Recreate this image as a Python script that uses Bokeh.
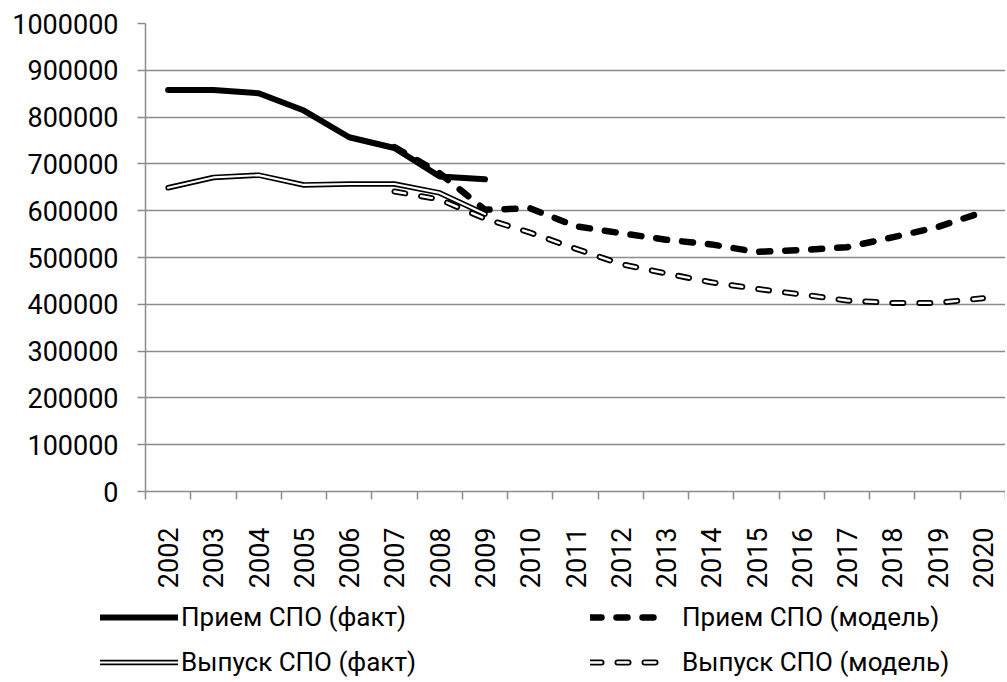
from bokeh.plotting import figure
from bokeh.models import Range1d, FixedTicker, NumeralTickFormatter, Legend, LegendItem
from bokeh.embed import file_html
from bokeh.resources import INLINE
import math

nan = float("nan")

# ---- data ----
years = [str(y) for y in range(2002, 2021)]
priem_fact = [858000, 858000, 851000, 814000, 757000, 734000, 673000, 667000] + [nan] * 11
priem_model = [nan] * 5 + [736000, 680000, 602000, 605000, 567000, 552000, 538000,
                           528000, 512000, 516000, 522000, 543000, 565000, 597000]
vypusk_fact = [649000, 671000, 676000, 655000, 657000, 657000, 638000, 593000] + [nan] * 11
vypusk_model = [nan] * 5 + [641000, 624000, 583000, 553000, 519000, 486000, 466000,
                            447000, 433000, 421000, 408000, 403000, 403000, 413000]
y_ticks = [0, 100000, 200000, 300000, 400000, 500000, 600000, 700000, 800000, 900000, 1000000]
labels = ["Прием СПО (факт)", "Прием СПО (модель)", "Выпуск СПО (факт)", "Выпуск СПО (модель)"]

x = list(range(len(years)))

FONT = "Roboto"
FS = "27px"
GRID = "#8c8c8c"

# line styles
S_PF = dict(line_color="black", line_width=6, line_join="round", line_cap="round")
S_PM = dict(line_color="black", line_width=6.5, line_join="round", line_cap="round", line_dash="11 15")
S_VF_O = dict(line_color="black", line_width=5.5, line_join="round", line_cap="round")
S_VF_I = dict(line_color="white", line_width=2.2, line_join="round", line_cap="round")
S_VM_O = dict(line_color="black", line_width=6, line_join="round", line_cap="round", line_dash="11 16")
S_VM_I = dict(line_color="white", line_width=2.4, line_join="round", line_cap="round", line_dash="11 16")

p = figure(width=1005, height=600, output_backend="svg", toolbar_location=None,
           x_range=Range1d(-0.5, 18.5), y_range=Range1d(0, 1000000),
           min_border_left=145, min_border_right=0, min_border_top=23, min_border_bottom=109)
p.outline_line_color = None
p.background_fill_color = "white"

# grid
p.xgrid.grid_line_color = None
p.ygrid.grid_line_color = GRID
p.ygrid.grid_line_width = 1.5
p.ygrid.ticker = FixedTicker(ticks=y_ticks)

# y axis
p.yaxis.ticker = FixedTicker(ticks=y_ticks)
p.yaxis.formatter = NumeralTickFormatter(format="0")
p.yaxis.axis_line_color = GRID
p.yaxis.axis_line_width = 1.5
p.yaxis.major_tick_line_color = GRID
p.yaxis.major_tick_line_width = 1.5
p.yaxis.major_tick_out = 8
p.yaxis.major_tick_in = 0
p.yaxis.minor_tick_line_color = None
p.yaxis.major_label_standoff = 19
p.yaxis.major_label_text_font = FONT
p.yaxis.major_label_text_font_size = FS
p.yaxis.major_label_text_color = "black"

# x axis
p.xaxis.ticker = FixedTicker(ticks=x, minor_ticks=[i - 0.5 for i in range(len(years) + 1)])
p.xaxis.major_label_overrides = {i: years[i] for i in x}
p.xaxis.axis_line_color = GRID
p.xaxis.axis_line_width = 1.5
p.xaxis.major_tick_line_color = None
p.xaxis.major_tick_out = 0
p.xaxis.major_tick_in = 0
p.xaxis.minor_tick_line_color = GRID
p.xaxis.minor_tick_line_width = 1.5
p.xaxis.minor_tick_out = 8
p.xaxis.minor_tick_in = 0
p.xaxis.major_label_orientation = math.pi / 2
p.xaxis.major_label_standoff = 28
p.xaxis.major_label_text_font = FONT
p.xaxis.major_label_text_font_size = FS
p.xaxis.major_label_text_color = "black"

# data lines
p.line(x, priem_fact, **S_PF)
p.line(x, priem_model, **S_PM)
p.line(x, vypusk_fact, **S_VF_O)
p.line(x, vypusk_fact, **S_VF_I)
p.line(x, vypusk_model, **S_VM_O)
p.line(x, vypusk_model, **S_VM_I)

# legend strip: a second root below the chart; its swatch lines sit outside its ranges
lg = figure(width=1005, height=80, output_backend="svg", toolbar_location=None,
            x_range=Range1d(0, 1), y_range=Range1d(0, 1),
            x_axis_type=None, y_axis_type=None,
            min_border=0, min_border_left=0, min_border_right=0,
            min_border_top=0, min_border_bottom=0)
lg.outline_line_color = None
lg.xgrid.visible = False
lg.ygrid.visible = False

sx, sy = [5, 6], [5, 5]
l_pf = lg.line(sx, sy, **S_PF)
l_pm = lg.line(sx, sy, **S_PM)
l_vf_o = lg.line(sx, sy, **S_VF_O)
l_vf_i = lg.line(sx, sy, **S_VF_I)
l_vm_o = lg.line(sx, sy, **S_VM_O)
l_vm_i = lg.line(sx, sy, **S_VM_I)

common = dict(border_line_color=None, background_fill_alpha=0, padding=0, margin=0,
              glyph_width=78, glyph_height=28, label_height=28, spacing=15,
              label_text_font=FONT, label_text_font_size="26px", label_text_color="black",
              label_text_baseline="middle")

leg1 = Legend(items=[LegendItem(label=labels[0], renderers=[l_pf]),
                     LegendItem(label=labels[2], renderers=[l_vf_o, l_vf_i])],
              location=(100, 3), label_standoff=3, **common)
leg2 = Legend(items=[LegendItem(label=labels[1], renderers=[l_pm]),
                     LegendItem(label=labels[3], renderers=[l_vm_o, l_vm_i])],
              location=(590, 3), label_standoff=14, **common)
lg.add_layout(leg1)
lg.add_layout(leg2)

open("out.html", "w").write(file_html([p, lg], INLINE))
